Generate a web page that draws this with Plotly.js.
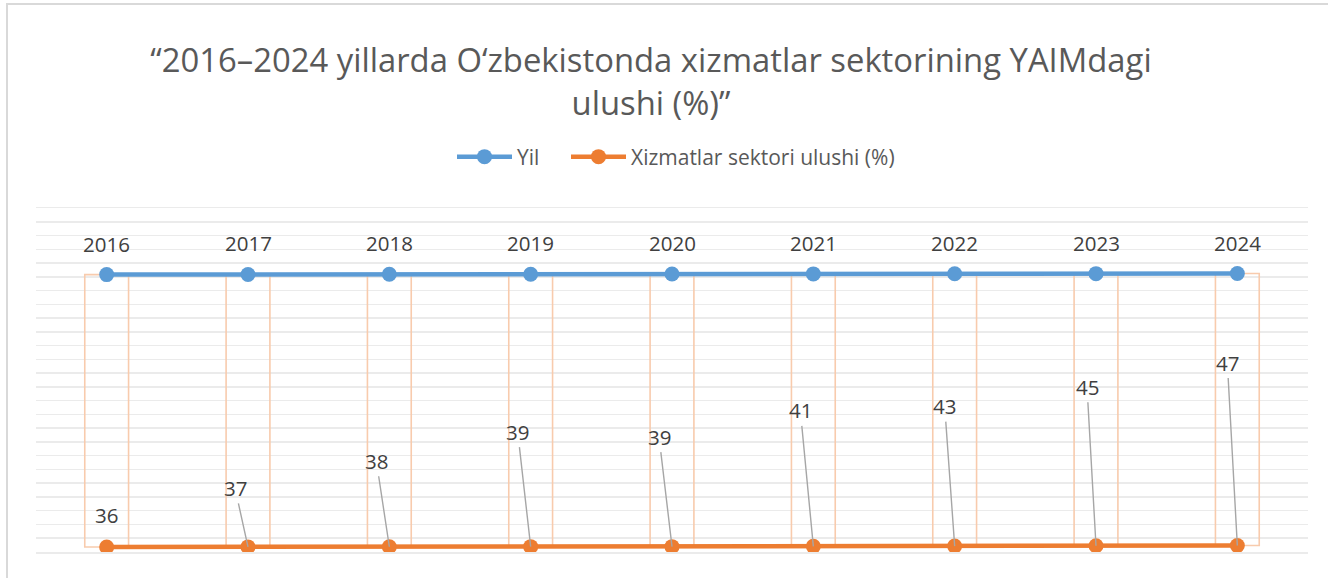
<!DOCTYPE html>
<html>
<head>
<meta charset="utf-8">
<script src="https://cdn.plot.ly/plotly-3.0.1.min.js"></script>
<style>
  html, body { margin: 0; padding: 0; background: #ffffff; overflow: hidden; }
  #chart { position: absolute; left: 0; top: 0; width: 1328px; height: 578px; }
  #frame { position: absolute; left: 6px; top: 3px; width: 1400px; height: 700px;
           border-left: 2px solid #D9D9D9; border-top: 2px solid #D9D9D9;
           pointer-events: none; z-index: 10; }
</style>
</head>
<body>
<div id="chart"></div>
<div id="frame"></div>
<script>
// ---- data ----
const categories = ['2016','2017','2018','2019','2020','2021','2022','2023','2024'];
const yilValues = [2016, 2017, 2018, 2019, 2020, 2021, 2022, 2023, 2024];
const ulushValues = [36, 37, 38, 39, 39, 41, 43, 45, 47];
const seriesNames = ['Yil', 'Xizmatlar sektori ulushi (%)'];
const titleText = '“2016–2024 yillarda O‘zbekistonda xizmatlar sektorining YAIMdagi<br>ulushi (%)”';

// ---- label placement (pixel offsets of the orange data labels from their points) ----
const labelOffsetX = [0, -13, -13, -13, -13, -13, -10, -9, -10];
const labelOffsetY = [-32, -59, -86, -115, -110, -136, -140, -159, -183];

const FONT = '"Open Sans", "Noto Sans", sans-serif';
const BLUE = '#5B9BD5', ORANGE = '#ED7D31', BAR_EDGE = '#F8CBAD', GRID = '#EBEBEB';

const traces = [
  {
    type: 'bar', x: categories,
    base: ulushValues,
    y: yilValues.map((v, i) => v - ulushValues[i]),
    width: 0.31,
    marker: { color: 'rgba(0,0,0,0)', line: { color: BAR_EDGE, width: 1.6 } },
    showlegend: false, hoverinfo: 'skip'
  },
  {
    type: 'scatter', mode: 'lines+markers', name: seriesNames[0], legend: 'legend',
    x: categories, y: yilValues,
    line: { color: BLUE, width: 4.5 },
    marker: { color: BLUE, size: 15 }
  },
  {
    type: 'scatter', mode: 'lines+markers', name: seriesNames[1], legend: 'legend2',
    x: categories, y: ulushValues,
    line: { color: ORANGE, width: 4.5 },
    marker: { color: ORANGE, size: 15 }
  }
];

const annotations = [];
categories.forEach((c, i) => {
  // category index i is the position of category c on the x axis
  annotations.push({
    x: i, y: yilValues[i], xref: 'x', yref: 'y',
    text: String(yilValues[i]), showarrow: false,
    yshift: 31, yanchor: 'middle', xanchor: 'center',
    font: { family: FONT, size: 20.5, color: '#404040' }
  });
  const leader = Math.abs(labelOffsetY[i]) > 40;
  const a = {
    x: i, y: ulushValues[i], xref: 'x', yref: 'y',
    text: String(ulushValues[i]),
    font: { family: FONT, size: 20.5, color: '#404040' }
  };
  if (leader) {
    Object.assign(a, { showarrow: true, ax: labelOffsetX[i], ay: labelOffsetY[i],
      arrowhead: 0, arrowwidth: 1.4, arrowcolor: '#A6A6A6', standoff: 0 });
  } else {
    Object.assign(a, { showarrow: false, xshift: labelOffsetX[i], yshift: -labelOffsetY[i],
      xanchor: 'center', yanchor: 'middle' });
  }
  annotations.push(a);
});

const legendBase = {
  orientation: 'h', xanchor: 'left', xref: 'container',
  y: 1 - 157 / 578, yref: 'container', yanchor: 'middle',
  font: { family: FONT, size: 21, color: '#595959' },
  itemwidth: 55, bgcolor: 'rgba(0,0,0,0)', borderwidth: 0
};

const layout = {
  width: 1328, height: 578,
  margin: { l: 36, r: 20, t: 208, b: 26, pad: 0 },
  paper_bgcolor: '#ffffff', plot_bgcolor: '#ffffff',
  title: {
    text: titleText,
    x: (651 - 36) / 1272, xanchor: 'center', xref: 'paper',
    y: 1 - 72 / 578, yanchor: 'middle', yref: 'container',
    font: { family: FONT, size: 32.8, color: '#595959' }
  },
  showlegend: true,
  legend: Object.assign({}, legendBase, { x: 452 / 1328 }),
  legend2: Object.assign({}, legendBase, { x: 566 / 1328 }),
  xaxis: {
    type: 'category', categoryorder: 'array', categoryarray: categories,
    range: [-0.5, 8.5], showticklabels: false, showgrid: false, zeroline: false,
    showline: true, mirror: true, linecolor: GRID, linewidth: 1.5,
    ticks: '', fixedrange: true
  },
  yaxis: {
    range: [0, 2500], dtick: 100, tick0: 0, showticklabels: false,
    showgrid: true, gridcolor: GRID, gridwidth: 1.5,
    zeroline: false, showline: false, ticks: '', fixedrange: true
  },
  annotations: annotations,
  barmode: 'overlay',
  hovermode: false
};

Plotly.newPlot('chart', traces, layout, { displayModeBar: false, staticPlot: true });
</script>
</body>
</html>
